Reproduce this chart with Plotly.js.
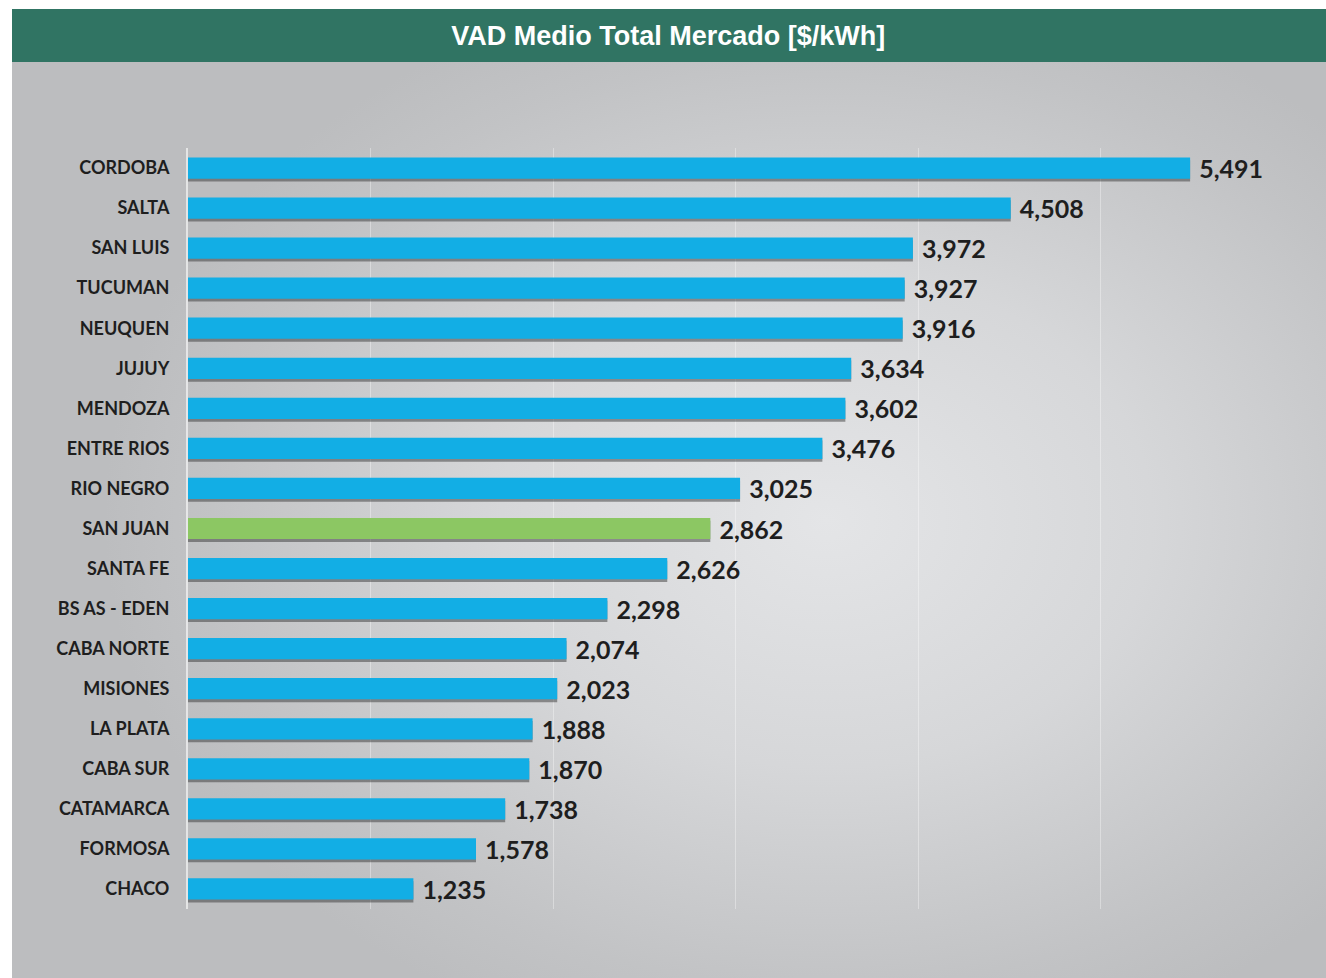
<!DOCTYPE html>
<html>
<head>
<meta charset="utf-8">
<script src="https://cdn.plot.ly/plotly-3.0.1.min.js"></script>
<style>
  html, body { margin: 0; padding: 0; background: #ffffff; }
  #wrap { position: relative; width: 1326px; height: 978px; overflow: hidden; background: #ffffff; }
  #bg { position: absolute; left: 12px; top: 62px; width: 1314px; height: 916px;
        background: radial-gradient(ellipse 55% 60% at 62% 50%, #e4e5e7 0%, #d6d7d9 45%, #c2c3c5 85%, #bcbdbf 100%); }
  #banner { position: absolute; left: 12px; top: 9px; width: 1314px; height: 53px; background: #307463; }
  #chart { position: absolute; left: 0; top: 0; width: 1326px; height: 978px; }
</style>
</head>
<body>
<div id="wrap">
  <div id="bg"></div>
  <div id="banner"></div>
  <div id="chart"></div>
</div>
<script>
const categories = ["CORDOBA","SALTA","SAN LUIS","TUCUMAN","NEUQUEN","JUJUY","MENDOZA","ENTRE RIOS","RIO NEGRO","SAN JUAN","SANTA FE","BS AS - EDEN","CABA NORTE","MISIONES","LA PLATA","CABA SUR","CATAMARCA","FORMOSA","CHACO"];
const values = [5.491,4.508,3.972,3.927,3.916,3.634,3.602,3.476,3.025,2.862,2.626,2.298,2.074,2.023,1.888,1.870,1.738,1.578,1.235];
const highlight = "SAN JUAN";
const titleText = "VAD Medio Total Mercado [$/kWh]";

const blue = "#12aee5";
const green = "#8cc763";
const colors = categories.map(c => c === highlight ? green : blue);
const barWidth = 0.53;

const shadow = {
  type: "bar", orientation: "h",
  x: values, y: categories,
  width: barWidth, offset: -barWidth / 2 + 0.07,
  marker: { color: "rgba(40,40,40,0.45)", line: { width: 0 } },
  hoverinfo: "skip", showlegend: false
};

const bars = {
  type: "bar", orientation: "h",
  x: values, y: categories,
  width: barWidth,
  marker: { color: colors, line: { width: 0 } },
  texttemplate: "\u00a0%{x:.3f}",
  textposition: "outside",
  constraintext: "none",
  cliponaxis: false,
  textfont: { family: "Lato, 'Open Sans', sans-serif", size: 25, weight: 700, color: "#1e1e1e" },
  showlegend: false
};

const layout = {
  width: 1326, height: 978,
  margin: { l: 188, r: 43, t: 148, b: 69 },
  paper_bgcolor: "rgba(0,0,0,0)",
  plot_bgcolor: "rgba(0,0,0,0)",
  barmode: "overlay",
  separators: ",.",
  title: {
    text: "<b>" + titleText + "</b>",
    font: { family: "'Liberation Sans', Arial, sans-serif", size: 27, color: "#ffffff" },
    x: 0.504, xref: "container", xanchor: "center",
    y: 1 - 36 / 978, yref: "container", yanchor: "middle"
  },
  xaxis: {
    range: [0, 6], dtick: 1, showticklabels: false,
    showgrid: true, gridcolor: "rgba(255,255,255,0.35)", gridwidth: 1,
    zeroline: false, showline: false, fixedrange: true
  },
  yaxis: {
    type: "category", categoryorder: "array", categoryarray: categories,
    autorange: "reversed",
    showgrid: false, zeroline: false,
    showline: true, linecolor: "rgba(255,255,255,0.6)", linewidth: 2,
    ticks: "outside", ticklen: 13, tickcolor: "rgba(0,0,0,0)",
    tickfont: { family: "Lato, 'Open Sans', sans-serif", size: 18, weight: 700, color: "#1e1e1e" },
    fixedrange: true
  },
  bargap: 0.47
};

Plotly.newPlot("chart", [shadow, bars], layout, { displayModeBar: false, staticPlot: true });
</script>
</body>
</html>
